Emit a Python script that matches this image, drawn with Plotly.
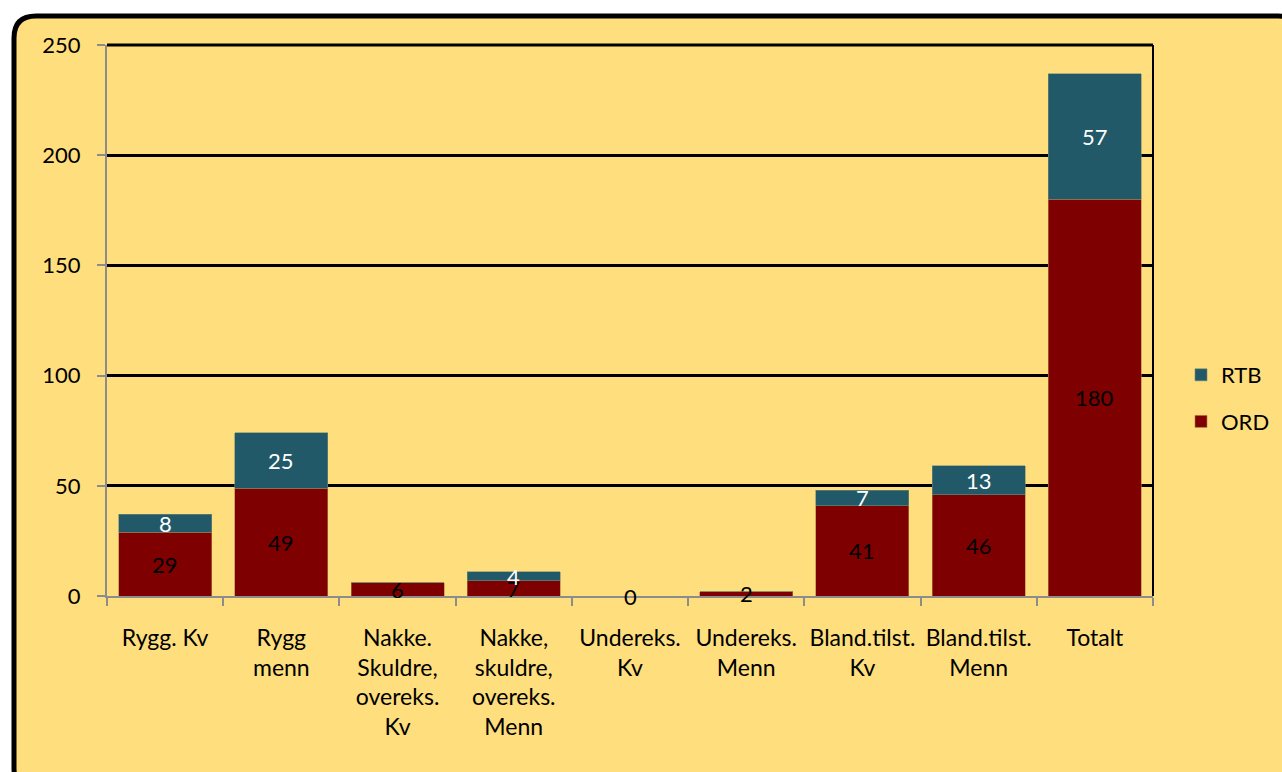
import plotly.graph_objects as go

categories = [
    "Rygg. Kv",
    "Rygg<br>menn",
    "Nakke.<br>Skuldre,<br>overeks.<br>Kv",
    "Nakke,<br>skuldre,<br>overeks.<br>Menn",
    "Undereks.<br>Kv",
    "Undereks.<br>Menn",
    "Bland.tilst.<br>Kv",
    "Bland.tilst.<br>Menn",
    "Totalt",
]
ord_values = [29, 49, 6, 7, 0, 2, 41, 46, 180]
rtb_values = [8, 25, 0, 4, 0, 0, 7, 13, 57]
y_ticks = [0, 50, 100, 150, 200, 250]

BG = "#FEDE7D"
ORD_COLOR = "#7F0000"
RTB_COLOR = "#215968"
FONT = "Lato, 'Open Sans', sans-serif"

# Plot area in pixels (1282 x 772 page)
W, H = 1282, 772
L, R, T, B = 107, 129, 45, 176
pw, ph = W - L - R, H - T - B


def px(x):
    return (x - L) / pw


def py(y):
    return (H - B - y) / ph


fig = go.Figure()
fig.add_trace(go.Bar(
    name="ORD", x=categories, y=ord_values,
    marker=dict(color=ORD_COLOR, line=dict(color="#B08040", width=0.6)),
    legendgroup="ord", legendrank=2,
))
fig.add_trace(go.Bar(
    name="RTB", x=categories, y=rtb_values,
    marker=dict(color=RTB_COLOR, line=dict(color="#7A8A70", width=0.6)),
    legendgroup="rtb", legendrank=1,
))

# Value labels centred in each stacked segment
annotations = []
for cat, o, r in zip(categories, ord_values, rtb_values):
    if o > 0 or (o == 0 and r == 0):
        annotations.append(dict(
            x=cat, y=o / 2, xref="x", yref="y", text=str(o), showarrow=False,
            font=dict(family=FONT, size=22, color="black"), yanchor="middle",
        ))
    if r > 0:
        annotations.append(dict(
            x=cat, y=o + r / 2, xref="x", yref="y", text=str(r), showarrow=False,
            font=dict(family=FONT, size=22, color="white"), yanchor="middle",
        ))

# Rounded outer frame, drawn in paper units
x0, x1 = px(14), px(1300)
y0, y1 = py(16), py(790)
rx, ry = 22 / pw, 22 / ph
frame_path = (
    f"M {x0 + rx},{y0} L {x1 - rx},{y0} Q {x1},{y0} {x1},{y0 - ry} "
    f"L {x1},{y1 + ry} Q {x1},{y1} {x1 - rx},{y1} "
    f"L {x0 + rx},{y1} Q {x0},{y1} {x0},{y1 + ry} "
    f"L {x0},{y0 - ry} Q {x0},{y0} {x0 + rx},{y0} Z"
)
shapes = [
    dict(type="path", path=frame_path, xref="paper", yref="paper",
         fillcolor=BG, line=dict(color="black", width=5), layer="below"),
    # top and right borders of the plot area
    dict(type="line", xref="paper", yref="paper", x0=0, x1=1, y0=1, y1=1,
         line=dict(color="black", width=3), layer="above"),
    dict(type="line", xref="paper", yref="paper", x0=1, x1=1, y0=0, y1=1,
         line=dict(color="black", width=2), layer="above"),
]

fig.update_layout(
    width=W, height=H,
    margin=dict(l=L, r=R, t=T, b=B, autoexpand=False),
    paper_bgcolor="white",
    plot_bgcolor="rgba(0,0,0,0)",
    barmode="stack",
    bargap=0.2,
    font=dict(family=FONT, size=22, color="black"),
    showlegend=True,
    legend=dict(
        x=px(1181), y=py(354), xanchor="left", yanchor="top",
        traceorder="grouped", tracegroupgap=15,
        bgcolor="rgba(0,0,0,0)", font=dict(family=FONT, size=22),
        itemwidth=30,
    ),
    annotations=annotations,
    shapes=shapes,
    xaxis=dict(
        showline=True, linecolor="#8C8C8C", linewidth=2,
        ticks="outside", tickcolor="#8C8C8C", ticklen=8, tickwidth=2,
        tickson="boundaries", showgrid=False,
        tickfont=dict(family=FONT, size=23, color="black"),
        tickangle=0, ticklabelstandoff=20,
    ),
    yaxis=dict(
        range=[0, 250], tickvals=y_ticks,
        showline=True, linecolor="#8C8C8C", linewidth=2,
        ticks="outside", tickcolor="#8C8C8C", ticklen=8, tickwidth=2,
        showgrid=True, gridcolor="black", gridwidth=3,
        zeroline=False,
        tickfont=dict(family=FONT, size=22, color="black"),
        ticklabelstandoff=12,
    ),
)

fig.write_html("out.html")
